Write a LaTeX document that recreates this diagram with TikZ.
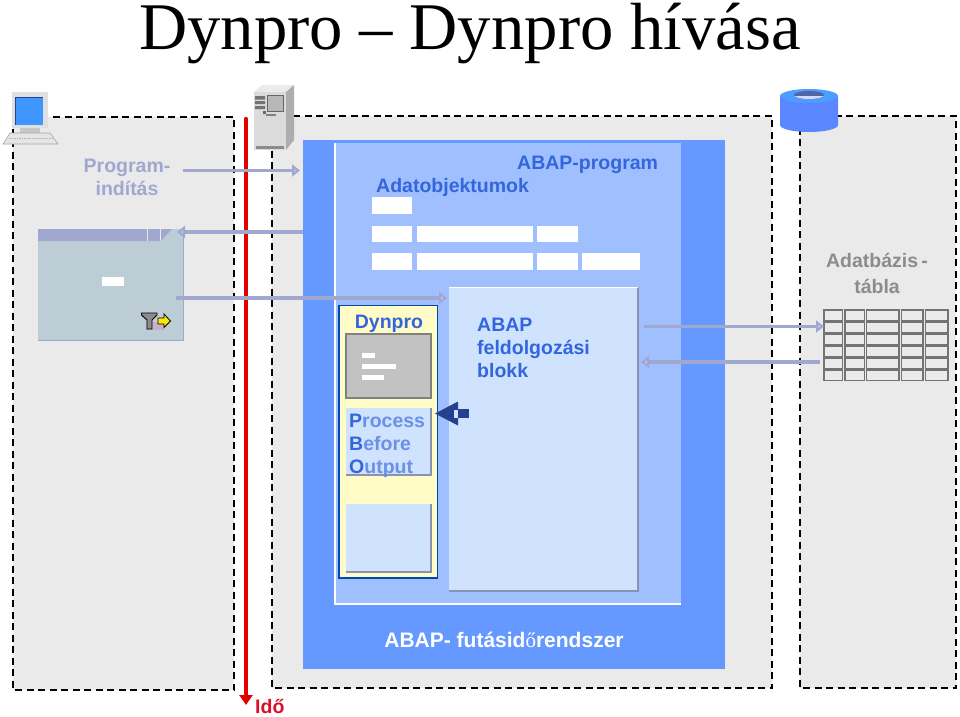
\documentclass[tikz,border=0pt]{standalone}
\usepackage{fontspec}
\setmainfont{Liberation Sans}
\newfontfamily\titlefont{Liberation Serif}
\usetikzlibrary{arrows.meta}
\definecolor{panelgray}{HTML}{EAEAEA}
\definecolor{rtblue}{HTML}{6699FF}
\definecolor{progblue}{HTML}{A0BFFF}
\definecolor{blockblue}{HTML}{CFE3FF}
\definecolor{textblue}{HTML}{3366DD}
\definecolor{textlight}{HTML}{6A90E8}
\definecolor{lav}{HTML}{A0A8D0}
\definecolor{scr}{HTML}{BCCDD6}
\definecolor{edgegray}{HTML}{8A94B0}
\definecolor{navy}{HTML}{24408E}
\definecolor{idored}{HTML}{D8102A}
\tikzset{
  x=1pt,y=-1pt,
  panel/.style={draw=black,fill=panelgray,line width=2.4pt,dash pattern=on 7pt off 4.5pt},
  flow/.style={draw=lav,line width=3.8pt,-{Triangle[length=8pt,width=12pt,fill=lav!70]}},
  lbl/.style={font=\fontsize{19.5}{23}\selectfont\bfseries,inner sep=0pt,align=left},
  bl/.style={lbl,text=textblue,anchor=base west},
  tcell/.style={draw=black!55,fill=panelgray,line width=1.1pt},
}
\newcommand{\shadebox}[5]{%
  \fill[blockblue] (#2,#3) rectangle (#4,#5);
  \draw[edgegray,line width=1.6pt] (#4,#3) -- (#4,#5) -- (#2,#5);
  \coordinate (#1) at (#2,#3);}
\begin{document}
\begin{tikzpicture}
\useasboundingbox (0,0) rectangle (960,716);
% title
\node[font=\titlefont\fontsize{66.7}{70}\selectfont,anchor=base,inner sep=0pt] (title) at (470,49) {Dynpro – Dynpro hívása};
% panels
\draw[panel] (13,117) rectangle (234,690);
\draw[panel] (272,116) rectangle (772,688);
\draw[panel] (800,116) rectangle (956,688);
% runtime & program
\fill[rtblue] (303,140) rectangle (725,669);
\fill[progblue] (334,143) rectangle (681,604);
\draw[white,line width=2.5pt] (335,143) -- (335,604) -- (681,604);
\node[lbl,font=\fontsize{21}{23}\selectfont\bfseries,text=white,anchor=base] (rt) at (504,647) {ABAP- futásid{\titlefont\mdseries ő}rendszer};
\node[bl] (prog) at (517,169) {ABAP-program};
\node[bl] (data) at (376,192) {Adatobjektumok};
% data objects
\foreach \a/\b/\c/\d in {372/412/197/213.5, 372/412/225.5/241.5, 417/533/225.5/241.5, 537/578/225.5/241.5, 372/412/253/270, 417/533/253/270, 537/578/253/270, 582/640/253/270}
  \fill[white] (\a,\c) rectangle (\b,\d);
% processing block
\shadebox{block}{449}{287}{638}{591}
\draw[white,line width=1pt] (449,287) -- (638,287);
\node[bl] (proc) at (477,377) {ABAP\\feldolgozási\\blokk};
% dynpro
\draw[draw=blue!60!cyan!70!black,fill=yellow!22,line width=1.8pt] (339,305.5) rectangle (437.5,578);
\node[bl,anchor=base] (dyn) at (389,328) {Dynpro};
\draw[draw=black!50,fill=black!24,line width=1.2pt] (346,334) rectangle (431,398);
\fill[white] (362,352.5) rectangle (375,358);
\fill[white] (362,364) rectangle (396,369);
\fill[white] (362,375) rectangle (384,380);
\shadebox{pbo}{346}{408}{431}{475}
\node[lbl,text=textlight,anchor=base west] (pbotext) at (349,473) {\textcolor{textblue}{P}rocess\\\textcolor{textblue}{B}efore\\\textcolor{textblue}{O}utput};
\shadebox{pai}{346}{504}{431}{572}
% call arrow
\fill[navy] (435,413.5) -- (458,401.5) -- (458,425.5) -- cycle;
\fill[navy] (458,409) rectangle (469,418);
\fill[blockblue] (454,409.5) rectangle (458,417.5);
% screen
\fill[scr] (38,229) rectangle (183,340);
\draw[lav,line width=.8pt] (38,340) -- (183,340) -- (183,229);
\fill[lav] (38,229) -- (172,229) -- (161,241) -- (38,241) -- cycle;
\draw[panelgray,line width=.8pt] (147.5,229) -- (147.5,241) (160,229) -- (160,241);
\fill[white] (102,277) rectangle (124,286);
% filter icon
\fill[lav!60!pink] (146,322) rectangle (164,330);
\filldraw[draw=black,fill=black!45,line width=.9pt] (141.5,313) -- (157,313) -- (157,315) -- (152,320) -- (152,329) -- (147,329) -- (147,320) -- (141.5,315) -- cycle;
\filldraw[draw=black,fill=yellow!90!orange,line width=.8pt] (158,318) -- (164,318) -- (164,314) -- (170.5,321) -- (164,327.5) -- (164,324) -- (158,324) -- cycle;
% table
\foreach \c/\d in {310/320.5,322/332.5,334/344.5,346/356.5,358/368.5,370/380.5}
  \foreach \a/\b in {824/842.5,845/864.5,866.5/899,901.5/923,925.5/948}
    \draw[tcell] (\a,\c) rectangle (\b,\d);
\node[lbl,text=black!45,anchor=base] (dbl) at (877,267) {Adatbázis\,-};
\node[lbl,text=black!45,anchor=base] (tab) at (877,293) {tábla};
\node[lbl,text=lav,align=center,anchor=base] (start) at (127,195) {Program-\\indítás};
% red time arrow
\coordinate (timeA) at (246,119);
\node[lbl,text=idored,anchor=base west] (ido) at (255,713) {Idő};
\coordinate (timeB) at (246,705);
\draw[draw=red!90!black,line width=4.4pt,line cap=round,-{Triangle[length=10pt,width=13pt]}] (timeA) -- (timeB);
% flows
\coordinate (f1a) at (183,170.5); \coordinate (f1b) at (300,170.5);
\coordinate (f2a) at (303,232); \coordinate (f2b) at (177,232);
\coordinate (f3a) at (176,298); \coordinate (f3b) at (447,298);
\coordinate (f4a) at (644,326.5); \coordinate (f4b) at (824,326.5);
\coordinate (f5a) at (820,362); \coordinate (f5b) at (641,362);
\foreach \p/\q in {f1a/f1b,f2a/f2b,f3a/f3b,f4a/f4b,f5a/f5b}
  \draw[flow] (\p) -- (\q);
% client computer
\fill[black!12] (12,92) rectangle (48,128);
\fill[blue!55!cyan!75] (15,97) rectangle (43,124.5);
\draw[navy,line width=1pt] (15,124.5) -- (15,97) -- (43,97);
\fill[black!22] (20,128) rectangle (40,133);
\filldraw[draw=black!35,fill=black!10,line width=.6pt] (10,133) -- (50,133) -- (58,144) -- (3,144) -- cycle;
\draw[black!30,line width=1.6pt,dash pattern=on 1.5pt off 1pt] (9,138.5) -- (52,138.5);
% server
\fill[black!8] (254,92) -- (262,85) -- (294,85) -- (286,92) -- cycle;
\fill[black!32] (286,92) -- (294,85) -- (294,140) -- (286,150) -- cycle;
\fill[black!14] (254,92) rectangle (286,150);
\fill[black!55] (255,96) rectangle (265,99.5) (255,101) rectangle (265,104) (255,106) rectangle (265,109);
\filldraw[draw=black!60,fill=black!28,line width=.8pt] (267,95) rectangle (283,111);
\fill[black!60] (263,111) rectangle (266,114);
\fill[black!50] (266,114) rectangle (276,116);
\fill[black!45] (256,146) rectangle (284,148.5);
% database
\fill[rtblue!88!blue] (780,96) -- (780,125) arc[start angle=180,end angle=360,x radius=29,y radius=-7] -- (838,96) -- cycle;
\fill[blue!55!cyan!70] (809,96) ellipse[x radius=29,y radius=7];
\fill[navy!80] (809,95) ellipse[x radius=15,y radius=4];
\begin{scope}
\clip (809,95) ellipse[x radius=15,y radius=4];
\fill[white!85!blue] (794,96) rectangle (824,100);
\end{scope}
\end{tikzpicture}
\end{document}
